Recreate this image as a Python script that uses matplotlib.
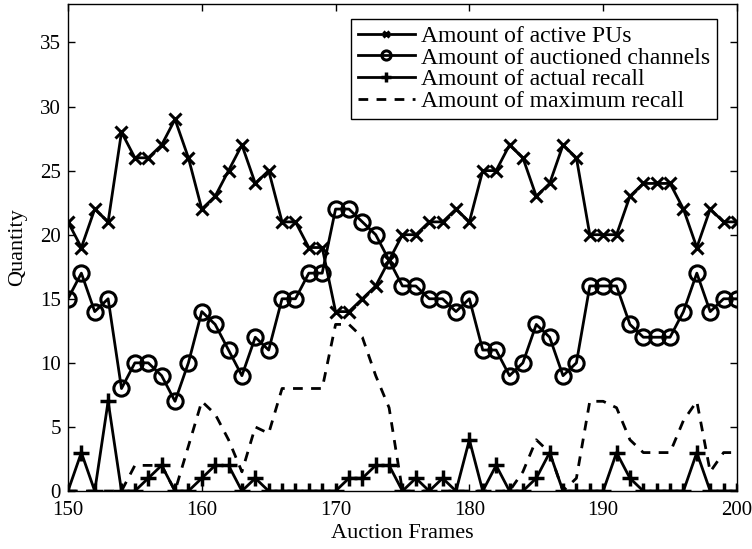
import numpy as np
import matplotlib.pyplot as plt

frames = np.arange(150, 201)

active_pus = [21, 19, 22, 21, 28, 26, 26, 27, 29, 26,
              22, 23, 25, 27, 24, 25, 21, 21, 19, 19,
              14, 14, 15, 16, 18, 20, 20, 21, 21, 22,
              21, 25, 25, 27, 26, 23, 24, 27, 26, 20,
              20, 20, 23, 24, 24, 24, 22, 19, 22, 21, 21]

auctioned = [15, 17, 14, 15, 8, 10, 10, 9, 7, 10,
             14, 13, 11, 9, 12, 11, 15, 15, 17, 17,
             22, 22, 21, 20, 18, 16, 16, 15, 15, 14,
             15, 11, 11, 9, 10, 13, 12, 9, 10, 16,
             16, 16, 13, 12, 12, 12, 14, 17, 14, 15, 15]

actual_recall = [0, 3, 0, 7, 0, 0, 1, 2, 0, 0,
                 1, 2, 2, 0, 1, 0, 0, 0, 0, 0,
                 0, 1, 1, 2, 2, 0, 1, 0, 1, 0,
                 4, 0, 2, 0, 0, 1, 3, 0, 0, 0,
                 0, 3, 1, 0, 0, 0, 0, 3, 0, 0, 0]

max_recall = [0, 0, 0, 0, 0, 2, 2, 2, 0, 3.5,
              7, 6, 4, 1.5, 5, 4.5, 8, 8, 8, 8,
              13, 13, 12, 9, 6.5, 0, 0, 0, 0, 0,
              0, 0, 0, 0, 1.5, 4, 3, 0, 1, 7,
              7, 6.5, 4, 3, 3, 3, 5.5, 7, 1.5, 3, 3]

plt.rcParams["font.family"] = ["Liberation Serif", "DejaVu Serif"]
plt.rcParams["font.size"] = 16

fig = plt.figure(figsize=(7.52, 5.49), dpi=100)
ax = fig.add_axes([0.0904, 0.1056, 0.8896, 0.8871])

ax.plot(frames, active_pus, color="black", lw=2, marker="x", ms=8, mew=2.2,
        label="Amount of active PUs")
ax.plot(frames, auctioned, color="black", lw=2, marker="o", ms=11, mew=2.2,
        mfc="none", label="Amount of auctioned channels")
ax.plot(frames, actual_recall, color="black", lw=2, marker="+", ms=12, mew=2.5,
        label="Amount of actual recall")
ax.plot(frames, max_recall, color="black", lw=2, linestyle=(0, (3.5, 3)),
        label="Amount of maximum recall")

ax.set_xlim(150, 200)
ax.set_ylim(0, 38)
ax.set_xticks(range(150, 201, 10))
ax.set_yticks(range(0, 36, 5))
ax.tick_params(direction="in", top=True, right=True, length=5, width=1,
               labelsize=15)
ax.tick_params(axis="x", pad=7)
ax.tick_params(axis="y", pad=5)
for s in ax.spines.values():
    s.set_linewidth(1)

ax.set_xlabel("Auction Frames", fontsize=16, labelpad=3)
ax.set_ylabel("Quantity", fontsize=16, labelpad=9)

leg = ax.legend(loc="upper right", fontsize=17, fancybox=False, framealpha=1,
                edgecolor="black", borderpad=0.3, labelspacing=0.0,
                handlelength=2.4, handletextpad=0.25, borderaxespad=0.0,
                bbox_to_anchor=(0.97, 0.97), markerscale=0.6)
leg.get_frame().set_linewidth(1)

fig.savefig("out.png", dpi=100)
